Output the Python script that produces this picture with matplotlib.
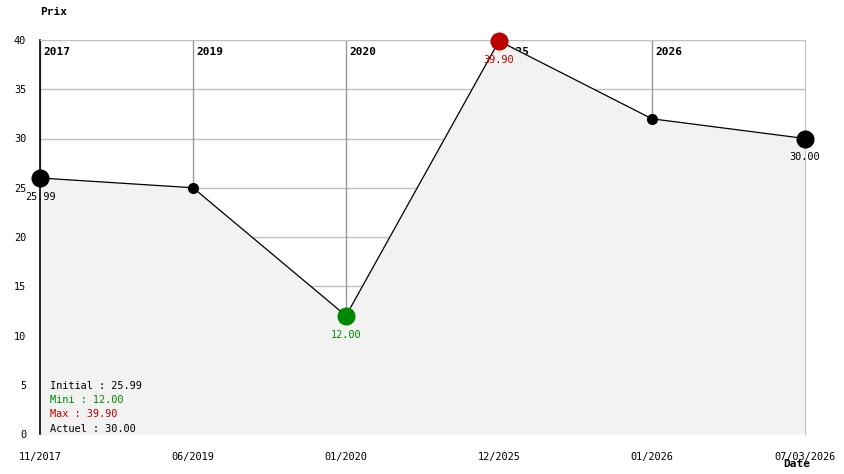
import matplotlib.pyplot as plt

# data
dates = ['11/2017', '06/2019', '01/2020', '12/2025', '01/2026', '07/03/2026']
prices = [25.99, 25.0, 12.0, 39.90, 32.0, 30.0]
years = ['2017', '2019', '2020', '2025', '2026']
year_pos = [0, 1, 2, 3, 4]

mono = 'DejaVu Sans Mono'
plt.rcParams['font.family'] = mono

fig = plt.figure(figsize=(8.44, 4.74), dpi=100)
ax = fig.add_axes([40 / 844, 40 / 474, 765 / 844, 394 / 474])

x = list(range(len(prices)))
ax.set_xlim(0, len(prices) - 1)
ax.set_ylim(0, 40)

# horizontal grid + year separators, under the fill
for yv in range(5, 41, 5):
    ax.axhline(yv, color='#c0c0c0', lw=1, zorder=0)
for xp, yr in zip(year_pos, years):
    ax.axvline(xp, color='#999999', lw=1, zorder=0)
    ax.text(xp + 0.02, 38.8, yr, fontsize=8, fontweight='bold', ha='left', va='center', zorder=1)

ax.fill_between(x, prices, 0, color='#f2f2f2', zorder=1)
ax.plot(x, prices, color='black', lw=0.9, zorder=3)

i_min = prices.index(min(prices))
i_max = prices.index(max(prices))
for i, p in enumerate(prices):
    if i == i_min:
        c, s = '#008800', 12
    elif i == i_max:
        c, s = '#bb0000', 12
    elif i in (0, len(prices) - 1):
        c, s = 'black', 12
    else:
        c, s = 'black', 7
    ax.plot(i, p, 'o', color=c, ms=s, zorder=4, clip_on=False)
    if s == 12:
        ax.text(i, p - 1.4, '%.2f' % p, color=c, fontsize=7.4, ha='center', va='top', zorder=5)

# legend text
info = [('Initial : %.2f' % prices[0], 'black'),
        ('Mini : %.2f' % prices[i_min], '#008800'),
        ('Max : %.2f' % prices[i_max], '#bb0000'),
        ('Actuel : %.2f' % prices[-1], 'black')]
for k, (t, c) in enumerate(info):
    ax.text(0.065, 4.9 - k * 1.45, t, color=c, fontsize=7.4, ha='left', va='center', zorder=5)

ax.set_xticks(x)
ax.set_xticklabels(dates, fontsize=7.4)
ax.set_yticks(range(0, 41, 5))
ax.tick_params(axis='both', length=0, labelsize=7.4)
ax.tick_params(axis='x', pad=13)
ax.tick_params(axis='y', pad=10)

for side in ('top', 'right'):
    ax.spines[side].set_color('#c0c0c0')
ax.spines['bottom'].set_visible(False)
ax.spines['left'].set_color('black')
ax.spines['left'].set_linewidth(1.2)

fig.text(40 / 844, 1 - 12 / 474, 'Prix', fontsize=8, fontweight='bold', ha='left', va='center')
fig.text(783 / 844, 1 - 464 / 474, 'Date', fontsize=8, fontweight='bold', ha='left', va='center')

fig.savefig('out.png', dpi=100)
